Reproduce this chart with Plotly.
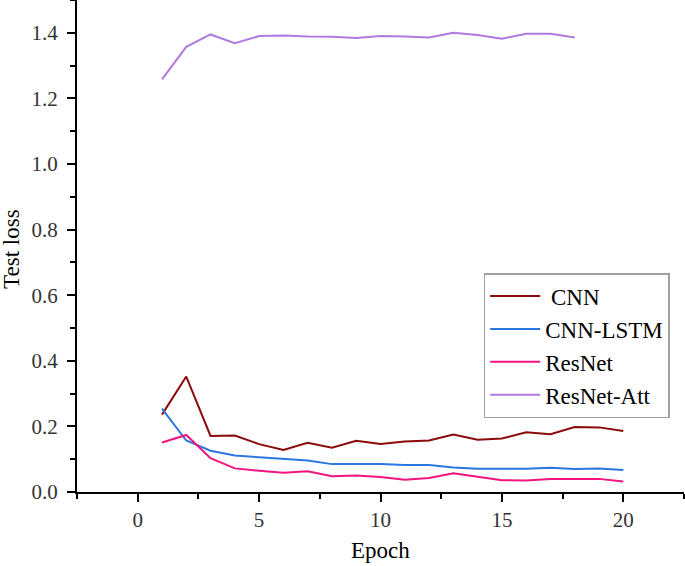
import plotly.graph_objects as go

epochs = list(range(1, 21))
epochs_att = list(range(1, 19))

cnn = [0.236, 0.352, 0.171, 0.172, 0.146, 0.128, 0.150, 0.135, 0.156, 0.146,
       0.154, 0.157, 0.175, 0.159, 0.163, 0.182, 0.176, 0.198, 0.197, 0.186]
cnn_lstm = [0.254, 0.157, 0.126, 0.111, 0.106, 0.101, 0.096, 0.085, 0.085, 0.085,
            0.082, 0.082, 0.075, 0.071, 0.071, 0.071, 0.074, 0.070, 0.072, 0.067]
resnet = [0.151, 0.174, 0.103, 0.072, 0.065, 0.059, 0.063, 0.048, 0.050, 0.046,
          0.037, 0.043, 0.057, 0.047, 0.036, 0.035, 0.040, 0.040, 0.040, 0.032]
resnet_att = [1.258, 1.357, 1.395, 1.368, 1.390, 1.392, 1.389, 1.388, 1.384,
              1.390, 1.389, 1.386, 1.400, 1.393, 1.382, 1.397, 1.397, 1.386]

series = [
    (" CNN", epochs, cnn, "#8b0a0a"),
    ("CNN-LSTM", epochs, cnn_lstm, "#2a78e0"),
    ("ResNet", epochs, resnet, "#f2147f"),
    ("ResNet-Att", epochs_att, resnet_att, "#b07ae0"),
]

fig = go.Figure()
for name, x, y, color in series:
    fig.add_trace(go.Scatter(x=x, y=y, mode="lines", name=name,
                             line=dict(color=color, width=2)))

serif = "Liberation Serif, Times New Roman, serif"

# axis titles placed as annotations so the plot box stays fixed
fig.add_annotation(text="Epoch", xref="paper", yref="paper", x=0.5, y=-0.118,
                   xanchor="center", yanchor="middle", showarrow=False,
                   font=dict(family=serif, size=23, color="black"))
fig.add_annotation(text="Test loss", xref="paper", yref="paper", x=-0.108, y=0.495,
                   xanchor="center", yanchor="middle", showarrow=False, textangle=-90,
                   font=dict(family=serif, size=23, color="black"))

fig.update_layout(
    width=685, height=566,
    margin=dict(l=77, r=1, t=0, b=74),
    plot_bgcolor="white", paper_bgcolor="white",
    font=dict(family=serif, color="black"),
    showlegend=True,
    legend=dict(x=0.670, y=0.445, xanchor="left", yanchor="top",
                bordercolor="#a0a0a0", borderwidth=1.5, bgcolor="white",
                font=dict(family=serif, size=23, color="black"),
                tracegroupgap=0, itemwidth=50),
    xaxis=dict(range=[-2.5, 22.5], tickvals=[0, 5, 10, 15, 20], automargin=False,
               showgrid=False, zeroline=False, showline=True,
               linecolor="black", linewidth=2,
               ticks="outside", ticklen=8, tickwidth=1.5, tickcolor="black",
               minor=dict(dtick=2.5, tick0=0, ticks="outside", ticklen=5,
                          tickwidth=1.5, tickcolor="black"),
               tickfont=dict(family=serif, size=21, color="#333")),
    yaxis=dict(range=[0, 1.5], tickvals=[0, 0.2, 0.4, 0.6, 0.8, 1.0, 1.2, 1.4],
               ticktext=["0.0", "0.2", "0.4", "0.6", "0.8", "1.0", "1.2", "1.4"],
               automargin=False, ticklabelstandoff=5,
               showgrid=False, zeroline=False, showline=True,
               linecolor="black", linewidth=2,
               ticks="outside", ticklen=8, tickwidth=1.5, tickcolor="black",
               minor=dict(dtick=0.1, tick0=0, ticks="outside", ticklen=5,
                          tickwidth=1.5, tickcolor="black"),
               tickfont=dict(family=serif, size=21, color="#333")),
)

# drop the browser's default body margin so the figure fills the window
fig.write_html("out.html", config={"displayModeBar": False},
               post_script="document.body.style.margin = '0';")
